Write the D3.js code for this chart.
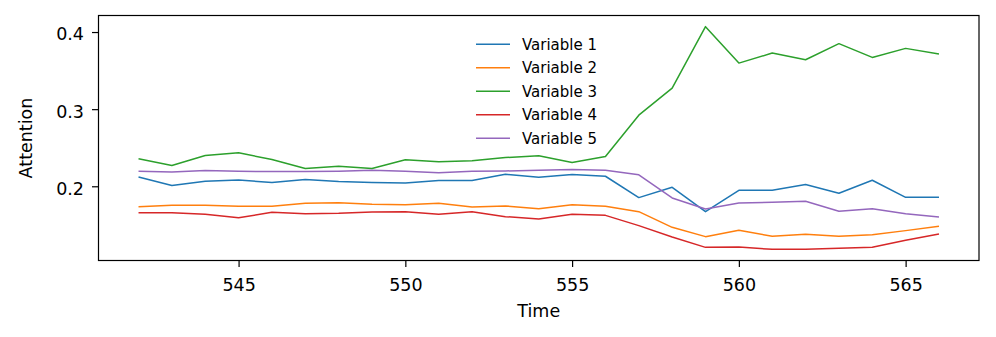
<!DOCTYPE html>
<html>
<head>
<meta charset="UTF-8" />
<script src="https://d3js.org/d3.v7.min.js"></script>
<style>
  body { margin: 0; background: #fff; }
  text { font-family: "DejaVu Sans", sans-serif; fill: #000; }
</style>
</head>
<body>
<script>
// time steps 542..566
const times = [542, 543, 544, 545, 546, 547, 548, 549, 550, 551, 552, 553, 554,
               555, 556, 557, 558, 559, 560, 561, 562, 563, 564, 565, 566];

const variable1 = [0.2121, 0.2009, 0.2065, 0.2082, 0.2048, 0.2087, 0.2061, 0.2048, 0.2044, 0.2074, 0.2074, 0.2156, 0.2117,
                   0.2152, 0.2130, 0.1853, 0.1987, 0.1671, 0.1948, 0.1948, 0.2022, 0.1909, 0.2078, 0.1857, 0.1857];
const variable2 = [0.1736, 0.1753, 0.1753, 0.1740, 0.1740, 0.1779, 0.1788, 0.1766, 0.1762, 0.1779, 0.1732, 0.1745, 0.1710,
                   0.1762, 0.1740, 0.1671, 0.1468, 0.1347, 0.1429, 0.1351, 0.1377, 0.1351, 0.1373, 0.1425, 0.1481];
const variable3 = [0.2356, 0.2269, 0.2399, 0.2434, 0.2347, 0.2230, 0.2260, 0.2230, 0.2343, 0.2317, 0.2330, 0.2373, 0.2395,
                   0.2308, 0.2386, 0.2922, 0.3273, 0.4070, 0.3597, 0.3727, 0.3641, 0.3849, 0.3671, 0.3788, 0.3714];
const variable4 = [0.1658, 0.1658, 0.1636, 0.1593, 0.1662, 0.1645, 0.1649, 0.1666, 0.1671, 0.1636, 0.1671, 0.1606, 0.1576,
                   0.1636, 0.1623, 0.1490, 0.1343, 0.1208, 0.1213, 0.1182, 0.1182, 0.1195, 0.1208, 0.1299, 0.1382];
const variable5 = [0.2195, 0.2186, 0.2204, 0.2195, 0.2191, 0.2191, 0.2195, 0.2208, 0.2195, 0.2174, 0.2195, 0.2199, 0.2208,
                   0.2217, 0.2208, 0.2148, 0.1849, 0.1706, 0.1784, 0.1792, 0.1805, 0.1675, 0.1710, 0.1645, 0.1602];

const seriesNames = ["Variable 1", "Variable 2", "Variable 3", "Variable 4", "Variable 5"];
const seriesValues = [variable1, variable2, variable3, variable4, variable5];
const colors = ["#1f77b4", "#ff7f0e", "#2ca02c", "#d62728", "#9467bd"];

const xTicks = [545, 550, 555, 560, 565];
const yTicks = [0.2, 0.3, 0.4];

const width = 996, height = 337;
const margin = { top: 15.5, right: 17, bottom: 76.5, left: 98.5 };

const svg = d3.select("body").append("svg")
  .attr("width", width)
  .attr("height", height);

// matplotlib style 5% padding
const xExt = d3.extent(times);
const xPad = (xExt[1] - xExt[0]) * 0.05;
const allVals = seriesValues.flat();
const yExt = d3.extent(allVals);
const yPad = (yExt[1] - yExt[0]) * 0.05;

const x = d3.scaleLinear()
  .domain([xExt[0] - xPad, xExt[1] + xPad])
  .range([margin.left, width - margin.right]);

const y = d3.scaleLinear()
  .domain([yExt[0] - yPad, yExt[1] + yPad])
  .range([height - margin.bottom, margin.top]);

// lines
const line = d3.line()
  .x((d, i) => x(times[i]))
  .y(d => y(d));

seriesValues.forEach((vals, k) => {
  svg.append("path")
    .datum(vals)
    .attr("d", line)
    .attr("fill", "none")
    .attr("stroke", colors[k])
    .attr("stroke-width", 1.5)
    .attr("stroke-linejoin", "round");
});

// axes
const xAxis = d3.axisBottom(x).tickValues(xTicks).tickSize(6.5).tickPadding(10).tickFormat(d3.format("d"));
const yAxis = d3.axisLeft(y).tickValues(yTicks).tickSize(6.5).tickPadding(6).tickFormat(d3.format(".1f"));

const gx = svg.append("g")
  .attr("transform", `translate(0,${height - margin.bottom})`)
  .call(xAxis);
gx.select(".domain").remove();
gx.selectAll("line").attr("stroke", "#000").attr("stroke-width", 1.2);
gx.selectAll("text").style("font-size", "17.5px").attr("dy", "0.82em");

const gy = svg.append("g")
  .attr("transform", `translate(${margin.left},0)`)
  .call(yAxis);
gy.select(".domain").remove();
gy.selectAll("line").attr("stroke", "#000").attr("stroke-width", 1.2);
gy.selectAll("text").style("font-size", "17.5px").attr("dx", "-2").attr("dy", "0.45em");

// frame
svg.append("rect")
  .attr("x", margin.left)
  .attr("y", margin.top)
  .attr("width", width - margin.right - margin.left)
  .attr("height", height - margin.bottom - margin.top)
  .attr("fill", "none")
  .attr("stroke", "#000")
  .attr("stroke-width", 1.2);

// axis labels
svg.append("text")
  .attr("x", (margin.left + width - margin.right) / 2)
  .attr("y", 317)
  .attr("text-anchor", "middle")
  .style("font-size", "17.5px")
  .text("Time");

svg.append("text")
  .attr("transform", `translate(32,${(margin.top + height - margin.bottom) / 2}) rotate(-90)`)
  .attr("text-anchor", "middle")
  .style("font-size", "17.5px")
  .text("Attention");

// legend
const legend = svg.append("g").attr("transform", "translate(476,44.3)");
seriesNames.forEach((name, i) => {
  const g = legend.append("g").attr("transform", `translate(0,${i * 23.5})`);
  g.append("line")
    .attr("x1", 0).attr("x2", 34)
    .attr("y1", 0).attr("y2", 0)
    .attr("stroke", colors[i])
    .attr("stroke-width", 1.5);
  g.append("text")
    .attr("x", 46)
    .attr("y", 0)
    .attr("dy", "0.36em")
    .style("font-size", "15px")
    .text(name);
});
</script>
</body>
</html>
